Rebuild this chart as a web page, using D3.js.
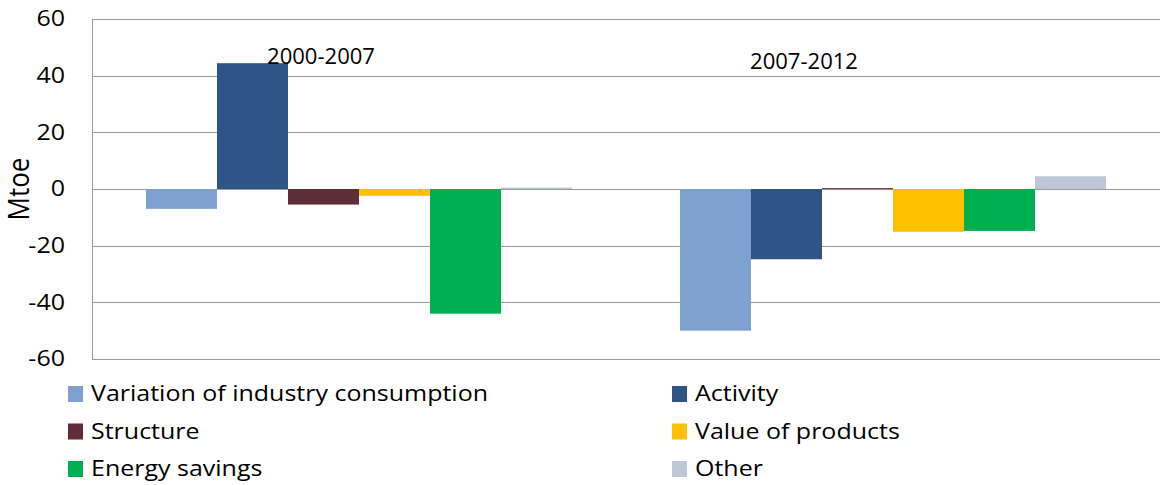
<!DOCTYPE html>
<html>
<head>
<meta charset="utf-8">
<script src="https://cdn.jsdelivr.net/npm/d3@7"></script>
<style>
  body { margin: 0; background: #fff; }
  svg { display: block; font-family: "Open Sans", "Liberation Sans", sans-serif; }
</style>
</head>
<body>
<div id="chart"></div>
<script>
// periods (categories) and series
const periods = ["2000-2007", "2007-2012"];
const seriesNames = ["Variation of industry consumption", "Activity", "Structure", "Value of products", "Energy savings", "Other"];
const seriesColors = ["#7EA1D0", "#2F5587", "#612D39", "#FFC000", "#00B050", "#BEC6D7"];

// values in Mtoe, per series: [2000-2007, 2007-2012]
const variation = [-7, -50];
const activity = [44.4, -24.8];
const structure = [-5.5, 0.3];
const valueOfProducts = [-2.4, -15.1];
const energySavings = [-44, -14.8];
const other = [0.5, 4.5];

const yTicks = [60, 40, 20, 0, -20, -40, -60];

const values = [variation, activity, structure, valueOfProducts, energySavings, other];

const width = 1161, height = 485;
const margin = { left: 92, right: 1, top: 19, bottom: 126 };
const stretch = 1.19; // the original text is a bit wide

const svg = d3.select("#chart").append("svg")
  .attr("width", width)
  .attr("height", height);

const y = d3.scaleLinear()
  .domain([-60, 60])
  .range([height - margin.bottom, margin.top]);

const x0 = d3.scaleBand()
  .domain(periods)
  .range([margin.left, width - margin.right])
  .padding(0);

const x1 = d3.scaleBand()
  .domain(seriesNames)
  .range([0, x0.bandwidth()])
  .paddingInner(0)
  .paddingOuter(0.76);

// gridlines
svg.append("g")
  .selectAll("line")
  .data(yTicks)
  .join("line")
  .attr("x1", margin.left)
  .attr("x2", width - margin.right)
  .attr("y1", d => Math.round(y(d)) + 0.5)
  .attr("y2", d => Math.round(y(d)) + 0.5)
  .attr("stroke", "#9a9a9a")
  .attr("stroke-width", 1);

// left axis line
svg.append("line")
  .attr("x1", margin.left + 0.5)
  .attr("x2", margin.left + 0.5)
  .attr("y1", y(60))
  .attr("y2", y(-60))
  .attr("stroke", "#9a9a9a");

// tick labels
svg.append("g")
  .selectAll("text")
  .data(yTicks)
  .join("text")
  .attr("transform", d => `translate(65,${y(d)}) scale(${stretch},1)`)
  .attr("dy", "0.35em")
  .attr("text-anchor", "end")
  .attr("font-size", 21)
  .attr("fill", "#000")
  .text(d => d);

// y title
svg.append("text")
  .attr("transform", `translate(29,${y(0)}) scale(1.1,1) rotate(-90)`)
  .attr("text-anchor", "middle")
  .attr("font-size", 26)
  .text("Mtoe");

// bars
const groups = svg.append("g")
  .selectAll("g")
  .data(periods)
  .join("g")
  .attr("transform", d => `translate(${x0(d)},0)`);

groups.selectAll("rect")
  .data((p, pi) => seriesNames.map((s, si) => ({ s, si, v: values[si][pi] })))
  .join("rect")
  .attr("x", d => x1(d.s))
  .attr("width", x1.bandwidth())
  .attr("y", d => y(Math.max(0, d.v)))
  .attr("height", d => Math.max(1, Math.abs(y(d.v) - y(0))))
  .attr("fill", d => seriesColors[d.si]);

// period labels (floating inside the plot)
const labelOffsets = [-38, -89];
const labelY = [64, 69];
svg.append("g")
  .selectAll("text")
  .data(periods)
  .join("text")
  .attr("transform", (d, i) => `translate(${x0(d) + x0.bandwidth() / 2 + labelOffsets[i]},${labelY[i]}) scale(1.05,1)`)
  .attr("text-anchor", "middle")
  .attr("font-size", 21)
  .text(d => d);

// legend
const legend = svg.append("g")
  .selectAll("g")
  .data(seriesNames)
  .join("g")
  .attr("transform", (d, i) => `translate(${i % 2 === 0 ? 68 : 672},${394 + Math.floor(i / 2) * 37.5})`);

legend.append("rect")
  .attr("x", 0)
  .attr("y", -8)
  .attr("width", 15)
  .attr("height", 16)
  .attr("fill", (d, i) => seriesColors[i]);

legend.append("text")
  .attr("transform", `translate(23,0) scale(${stretch},1)`)
  .attr("dy", "0.35em")
  .attr("font-size", 21)
  .text(d => d);
</script>
</body>
</html>
